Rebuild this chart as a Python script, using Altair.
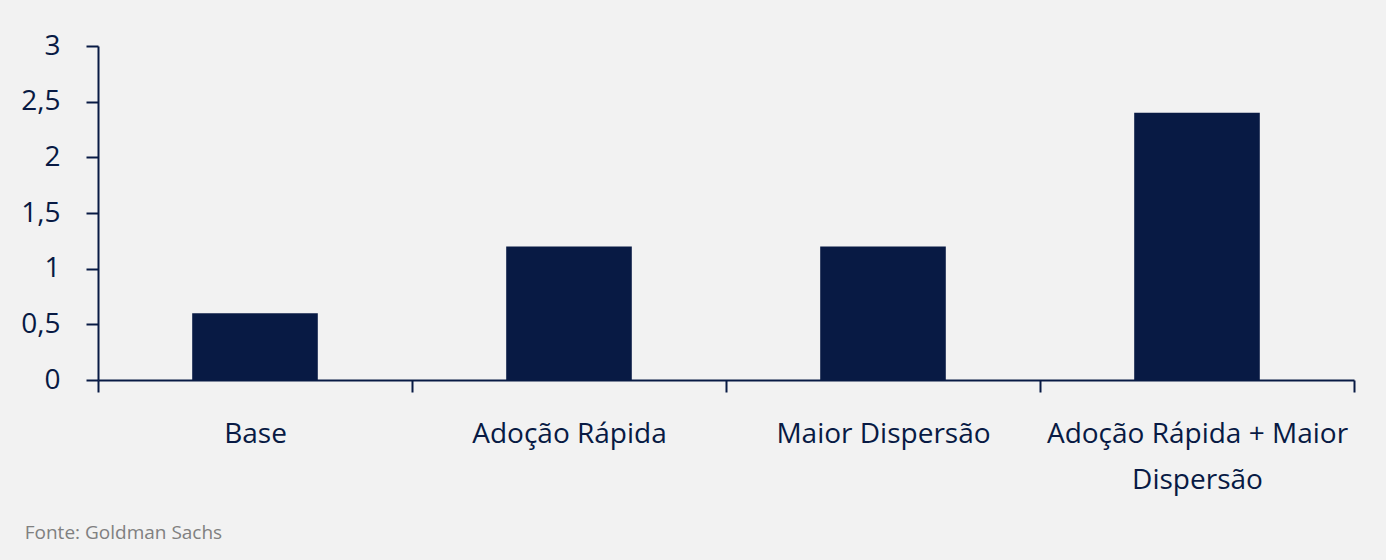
import altair as alt
import pandas as pd

categories = ["Base", "Adoção Rápida", "Maior Dispersão", "Adoção Rápida + Maior Dispersão"]
values = [0.6, 1.2, 1.2, 2.4]
y_ticks = [0, 0.5, 1, 1.5, 2, 2.5, 3]
source_note = "Fonte: Goldman Sachs"

NAVY = "#081a44"
BG = "#f2f2f2"
FONT = "Open Sans"

df = pd.DataFrame({"cenario": categories, "valor": values})

label_expr = (
    "datum.label == 'Adoção Rápida + Maior Dispersão' "
    "? ['Adoção Rápida + Maior', 'Dispersão'] : datum.label"
)

chart = (
    alt.Chart(df)
    .mark_bar(color=NAVY, width=alt.RelativeBandSize(0.4))
    .encode(
        x=alt.X(
            "cenario:N",
            sort=categories,
            title=None,
            scale=alt.Scale(paddingInner=0, paddingOuter=0),
            axis=alt.Axis(
                labelAngle=0,
                labelLimit=1000,
                labelExpr=label_expr,
                labelFont=FONT,
                labelFontSize=28,
                labelColor=NAVY,
                labelPadding=28,
                labelLineHeight=46,
                tickBand="extent",
                tickSize=12,
                tickColor=NAVY,
                tickWidth=2,
                domainColor=NAVY,
                domainWidth=2,
                grid=False,
            ),
        ),
        y=alt.Y(
            "valor:Q",
            title=None,
            scale=alt.Scale(domain=[0, 3], nice=False),
            axis=alt.Axis(
                values=y_ticks,
                labelExpr="replace(format(datum.value, '~g'), '.', ',')",
                labelFont=FONT,
                labelFontSize=28,
                labelColor=NAVY,
                labelPadding=26,
                tickSize=12,
                tickColor=NAVY,
                tickWidth=2,
                domainColor=NAVY,
                domainWidth=2,
                grid=False,
            ),
        ),
    )
    .properties(
        width=1256,
        height=334,
        background=BG,
        padding={"left": 98, "top": 46, "right": 32, "bottom": 180},
        autosize=alt.AutoSizeParams(type="none"),
        title=alt.TitleParams(
            text=source_note,
            orient="bottom",
            anchor="start",
            font=FONT,
            fontSize=19,
            fontWeight="normal",
            color="#808080",
            dx=4,
            offset=30,
        ),
    )
    .configure_view(stroke=None)
)

chart.save("out.html", embed_options={"renderer": "svg", "actions": False})
